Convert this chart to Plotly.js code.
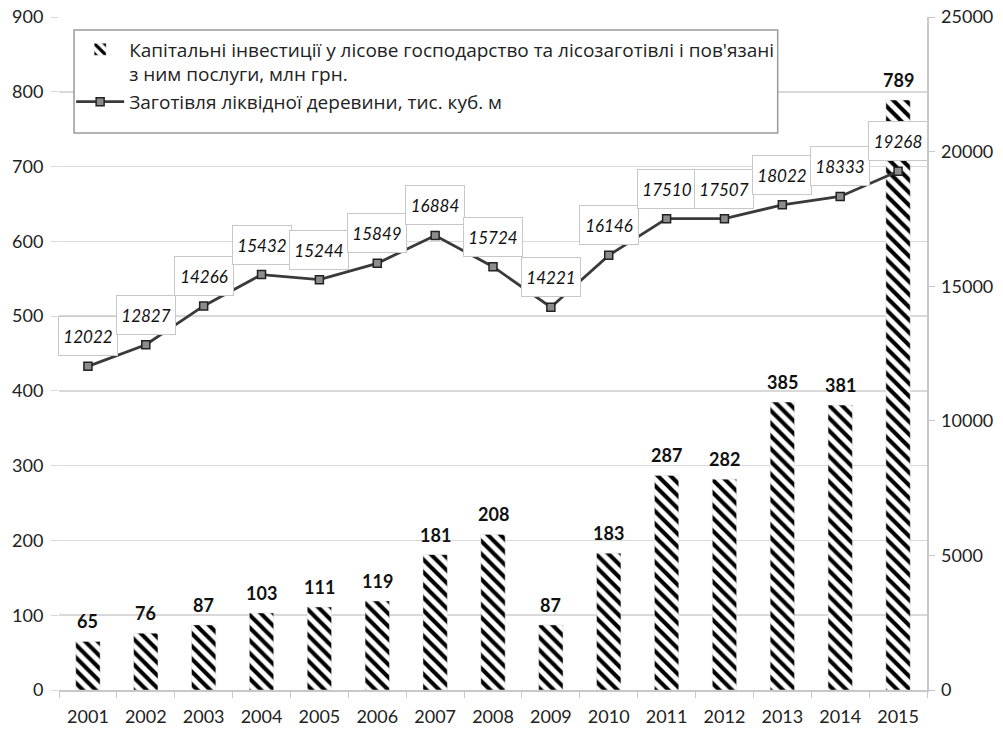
<!DOCTYPE html>
<html><head><meta charset="utf-8">
<script src="https://cdn.plot.ly/plotly-3.0.1.min.js"></script>
<style>body{margin:0;background:#fff}#c{width:1003px;height:733px}</style>
</head><body><div id="c"></div>
<script>
const years = ['2001','2002','2003','2004','2005','2006','2007','2008','2009','2010','2011','2012','2013','2014','2015'];
const investments = [65,76,87,103,111,119,181,208,87,183,287,282,385,381,789];
const harvest = [12022,12827,14266,15432,15244,15849,16884,15724,14221,16146,17510,17507,18022,18333,19268];
const barName = "Капітальні інвестиції у лісове господарство та лісозаготівлі і пов'язані<br>з ним послуги, млн грн.";
const lineName = "Заготівля ліквідної деревини, тис. куб. м";

const FONT = 'Lato, "Open Sans", sans-serif';

const traces = [
  {type:'bar', x:years, y:investments, name:barName, width:0.42,
   marker:{color:'#ffffff', line:{color:'#dddddd', width:0.5},
           pattern:{shape:'\\', fgcolor:'#000000', bgcolor:'#ffffff', size:9, solidity:0.45}},
   hoverinfo:'none'},
  {type:'scatter', mode:'lines+markers', x:years, y:harvest, yaxis:'y2', name:lineName,
   line:{color:'#3a3a3a', width:2.8},
   marker:{symbol:'square', size:8, color:'#8c8c8c', line:{color:'#222', width:1.5}},
   hoverinfo:'none'}
];

const annotations = [];
years.forEach((yr,i)=>{
  annotations.push({x:i, y:investments[i], xref:'x', yref:'y', text:'<b>'+investments[i]+'</b>',
    showarrow:false, yanchor:'bottom', yshift:7, font:{family:FONT, size:18, color:'#111'}});
  annotations.push({x:i, y:harvest[i], xref:'x', yref:'y2', text:'<i>'+harvest[i]+'</i>',
    showarrow:false, yanchor:'middle', xanchor:'center', yshift:30, width:56, height:36,
    bgcolor:'#ffffff', bordercolor:'#c8c8c8', borderwidth:1,
    font:{family:FONT, size:17, color:'#111'}});
});

const layout = {
  width:1003, height:733,
  margin:{l:59, r:76, t:17, b:43},
  paper_bgcolor:'#fff', plot_bgcolor:'#fff',
  font:{family:FONT, size:18, color:'#222'},
  showlegend:true,
  legend:{x:0.014, y:0.98, xanchor:'left', yanchor:'top', bgcolor:'rgba(0,0,0,0)', borderwidth:0,
          valign:'top', itemwidth:48, tracegroupgap:0, font:{family:'"Open Sans", sans-serif', size:19, color:'#222'}},
  xaxis:{type:'category', range:[-0.5,14.5], autorange:false, showgrid:false, showline:true, linecolor:'#c8c8c8', linewidth:1.5,
         ticks:'outside', tickson:'boundaries', ticklen:6, tickcolor:'#c8c8c8', tickangle:0, ticklabelstandoff:10,
         tickfont:{family:FONT, size:18, color:'#222'}, fixedrange:true},
  yaxis:{range:[0,900], autorange:false, dtick:100, showgrid:true, gridcolor:'#d9d9d9', gridwidth:1.5,
         zeroline:false, showline:false, ticks:'outside', ticklen:7, tickcolor:'#d9d9d9', ticklabelstandoff:4,
         tickfont:{family:FONT, size:18, color:'#222'}},
  yaxis2:{range:[0,25000], autorange:false, dtick:5000, tickformat:'d', overlaying:'y', side:'right', showgrid:false,
          zeroline:false, showline:true, linecolor:'#c8c8c8', linewidth:1.5,
          ticks:'outside', ticklen:6, tickcolor:'#c8c8c8', ticklabelstandoff:3,
          tickfont:{family:FONT, size:18, color:'#222'}},
  shapes:[{type:'rect', xref:'paper', yref:'paper', x0:0.0173, x1:0.828, y0:0.8276, y1:0.9807,
           fillcolor:'#ffffff', line:{color:'#9a9a9a', width:1.5}, layer:'above'}],
  annotations:annotations
};
Plotly.newPlot('c', traces, layout, {displayModeBar:false, staticPlot:true});
</script></body></html>
